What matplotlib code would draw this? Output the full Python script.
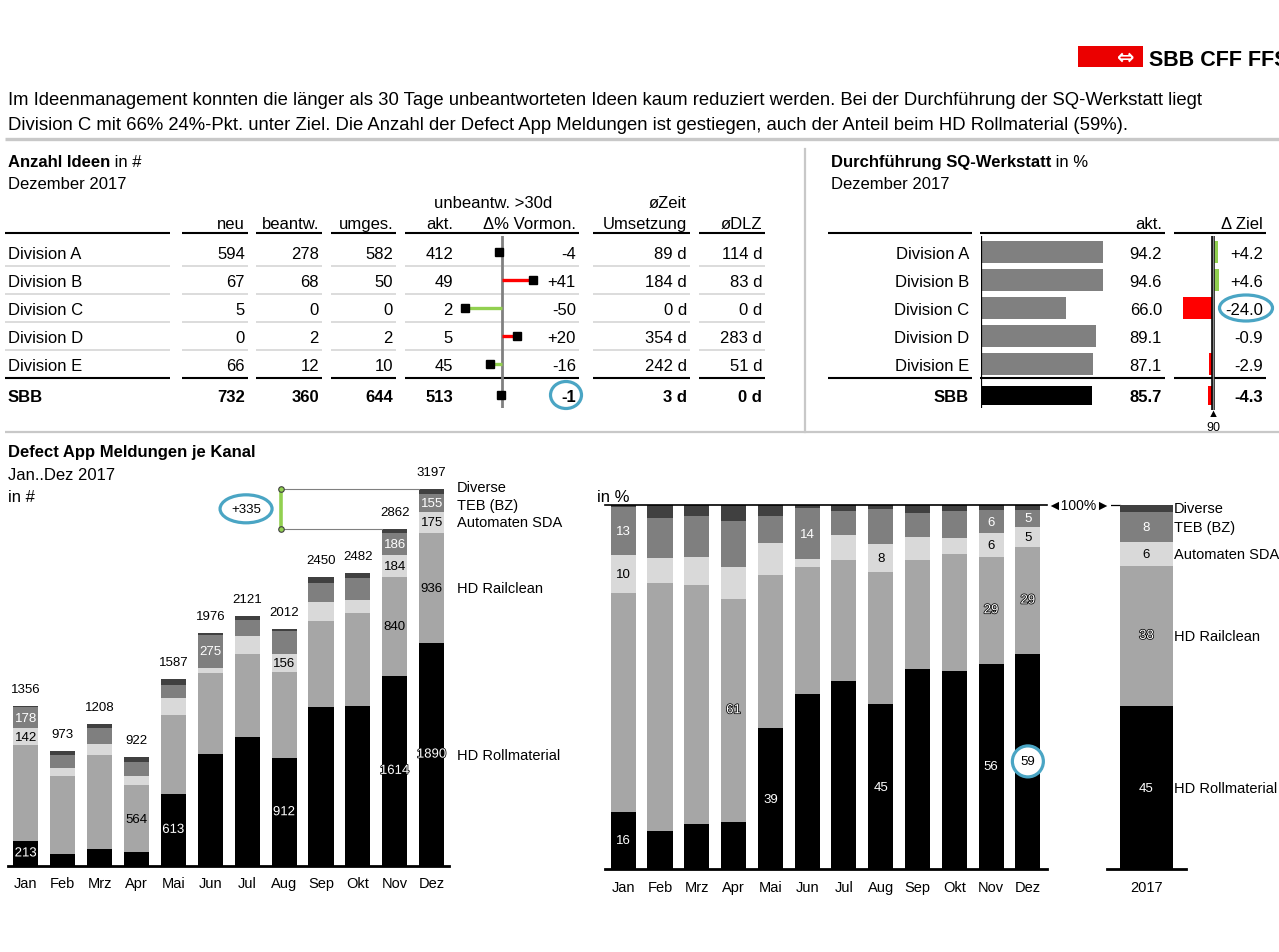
import matplotlib
matplotlib.use('Agg')
import matplotlib.pyplot as plt
import matplotlib.patheffects as pe
from matplotlib.patches import Ellipse, Rectangle
import numpy as np

plt.rcParams['font.family'] = ['Liberation Sans', 'DejaVu Sans']

W, H = 1279, 953

# --- Anzahl Ideen, Dezember 2017 (last row = SBB) ---
row_names = ['Division A', 'Division B', 'Division C', 'Division D', 'Division E', 'SBB']
ideen_neu = [594, 67, 5, 0, 66, 732]
ideen_beantw = [278, 68, 0, 2, 12, 360]
ideen_umges = [582, 50, 0, 2, 10, 644]
unbeantw_akt = [412, 49, 2, 5, 45, 513]
unbeantw_delta = [-4, 41, -50, 20, -16, -1]
zeit_umsetzung = [89, 184, 0, 354, 242, 3]
dlz = [114, 83, 0, 283, 51, 0]

# --- Durchfuehrung SQ-Werkstatt in % ---
sq_akt = [94.2, 94.6, 66.0, 89.1, 87.1, 85.7]
sq_ziel = 90

# --- Defect App Meldungen je Kanal ---
months = ['Jan', 'Feb', 'Mrz', 'Apr', 'Mai', 'Jun', 'Jul', 'Aug', 'Sep', 'Okt', 'Nov', 'Dez']
hd_roll = [213, 102, 148, 120, 613, 950, 1097, 912, 1346, 1353, 1614, 1890]
hd_rail = [814, 662, 793, 564, 668, 688, 705, 731, 733, 795, 840, 936]
automaten = [142, 68, 96, 82, 142, 45, 146, 156, 158, 112, 184, 175]
teb = [178, 106, 133, 115, 116, 275, 140, 190, 162, 182, 186, 155]
diverse = [9, 35, 38, 41, 48, 18, 33, 23, 51, 40, 38, 41]
series_names = ['HD Rollmaterial', 'HD Railclean', 'Automaten SDA', 'TEB (BZ)', 'Diverse']
series_colors = ['#000000', '#a6a6a6', '#d9d9d9', '#7f7f7f', '#404040']

# which segments carry a value label
abs_label_months = [[0, 4, 7, 10, 11], [3, 10, 11], [0, 7, 10, 11], [0, 5, 10, 11], []]
pct_labels = [{0: '16', 4: '39', 7: '45', 10: '56', 11: '59'},
              {3: '61', 10: '29', 11: '29'},
              {0: '10', 7: '8', 10: '6', 11: '5'},
              {0: '13', 5: '14', 10: '6', 11: '5'},
              {}]
year_labels = ['45', '38', '6', '8', '']

RED = '#ff0000'
GREEN = '#92d050'
RING = '#4aa5c4'
LGRAY = '#c8c8c8'

fig = plt.figure(figsize=(W / 100, H / 100), dpi=100)
bg = fig.add_axes([0, 0, 1, 1])
bg.set_xlim(0, W)
bg.set_ylim(H, 0)
bg.axis('off')


def px_axes(x0, y0, x1, y1):
    ax = fig.add_axes([x0 / W, 1 - y1 / H, (x1 - x0) / W, (y1 - y0) / H])
    ax.patch.set_visible(False)
    return ax


def T(x, y, s, size=12, ha='left', weight='normal', color='black', **kw):
    # y = visual centre of capitals
    return bg.text(x, y + size * 1.389 * 0.36, s, fontsize=size, ha=ha, va='baseline',
                   fontweight=weight, color=color, **kw)


def hline(x0, x1, y, color='black', lw=1.5):
    bg.plot([x0, x1], [y, y], color=color, lw=lw, solid_capstyle='butt')


halo = [pe.withStroke(linewidth=1.1, foreground='black')]

# ---------------- header ----------------
bg.add_patch(Rectangle((1078, 47), 65, 21, color='#eb0000', lw=0))
bg.text(1126, 57.5, '⇔', fontsize=15, color='white', ha='center', va='center',
        fontweight='bold', family='DejaVu Sans')
T(1149, 58, 'SBB CFF FFS', size=15.5, weight='bold')

T(8, 98, 'Im Ideenmanagement konnten die länger als 30 Tage unbeantworteten Ideen kaum '
         'reduziert werden. Bei der Durchführung der SQ-Werkstatt liegt', size=13.3)
T(8, 123, 'Division C mit 66% 24%-Pkt. unter Ziel. Die Anzahl der Defect App Meldungen ist '
          'gestiegen, auch der Anteil beim HD Rollmaterial (59%).', size=13.3)
hline(5, W, 140, LGRAY, 2.4)
hline(5, W, 433, LGRAY, 1.6)
bg.plot([805, 805], [150, 433], color=LGRAY, lw=1.6)

# ---------------- left table ----------------
t = T(8, 161, 'Anzahl Ideen', weight='bold')
bg.annotate(' in #', xy=(1, 0), xycoords=t, va='bottom', fontsize=12)
T(8, 183, 'Dezember 2017')
T(493, 202, 'unbeantw. >30d', ha='center')
T(687, 202, 'øZeit', ha='right')
for x, s in [(245, 'neu'), (319, 'beantw.'), (393, 'umges.'), (453, 'akt.'),
             (576, 'Δ% Vormon.'), (687, 'Umsetzung'), (762, 'øDLZ')]:
    T(x, 223, s, ha='right')

left_segs = [(5, 170), (182, 248), (256, 322), (331, 396), (405, 579), (593, 690), (699, 765)]
for a, b in left_segs:
    hline(a, b, 234)
    hline(a, b, 378.5)
    for y in [267, 295, 323, 351]:
        hline(a, b, y, '#dcdcdc', 1.4)

row_y = [253, 281, 309, 337, 365, 396]
for i, y in enumerate(row_y):
    w = 'bold' if i == len(row_y) - 1 else 'normal'
    T(8, y, row_names[i], weight=w)
    T(245, y, str(ideen_neu[i]), ha='right', weight=w)
    T(319, y, str(ideen_beantw[i]), ha='right', weight=w)
    T(393, y, str(ideen_umges[i]), ha='right', weight=w)
    T(453, y, str(unbeantw_akt[i]), ha='right', weight=w)
    d = unbeantw_delta[i]
    T(576, y, f'{d:+d}' if d > 0 else str(d), ha='right', weight=w)
    T(687, y, f'{zeit_umsetzung[i]} d', ha='right', weight=w)
    T(762, y, f'{dlz[i]} d', ha='right', weight=w)
bg.add_patch(Ellipse((566, 396), 31, 27, fill=False, ec=RING, lw=2.3))

# delta mini chart
ax4 = px_axes(405, 237, 578, 409)
ax4.set_xlim(-97 / 0.75, 76 / 0.75)
ax4.set_ylim(409, 237)
ax4.axis('off')
ax4.axvline(0, color='#808080', lw=2, zorder=1)
for y, d in zip(row_y, unbeantw_delta):
    ax4.plot([0, d], [y, y], color=RED if d > 0 else GREEN, lw=2.4,
             solid_capstyle='butt', zorder=2)
    ax4.plot(d, y, 's', ms=5.8, color='black', zorder=3)

# ---------------- right table ----------------
t = T(831, 161, 'Durchführung SQ-Werkstatt', weight='bold')
bg.annotate(' in %', xy=(1, 0), xycoords=t, va='bottom', fontsize=12)
T(831, 183, 'Dezember 2017')
T(1162, 223, 'akt.', ha='right')
T(1263, 223, 'Δ Ziel', ha='right')
for a, b in [(828, 972), (980, 1165), (1174, 1266)]:
    hline(a, b, 234)
    hline(a, b, 378.5)

sq_delta = [round(v - sq_ziel, 1) for v in sq_akt]
for i, y in enumerate(row_y):
    w = 'bold' if i == len(row_y) - 1 else 'normal'
    T(969, y, row_names[i], ha='right', weight=w)
    T(1162, y, f'{sq_akt[i]:.1f}', ha='right', weight=w)
    T(1263, y, f'{sq_delta[i]:+.1f}' if sq_delta[i] > 0 else f'{sq_delta[i]:.1f}',
      ha='right', weight=w)
bg.add_patch(Ellipse((1246, 309), 53, 26, fill=False, ec=RING, lw=2.3))

ax5 = px_axes(981, 237, 1166, 409)
ax5.set_xlim(0, 185 / 1.29)
ax5.set_ylim(409, 237)
ax5.axis('off')
ax5.barh(row_y, sq_akt, height=[22] * 5 + [19],
         color=['#808080'] * 5 + ['#000000'], lw=0)
ax5.axvline(0, color='black', lw=1.6)

ax6 = px_axes(1174, 237, 1266, 411)
ax6.set_xlim(-39 / 1.27, 92 / 1.27 - 39 / 1.27)
ax6.set_ylim(411, 237)
ax6.axis('off')
ax6.barh(row_y, sq_delta, height=[22] * 5 + [19],
         color=[GREEN if v > 0 else RED for v in sq_delta], lw=0)
ax6.axvline(0, color='black', lw=2.6)
ax6.axvline(0, color='#8a8a8a', lw=1.0)
bg.text(1213, 414, '▲', fontsize=8, ha='center', va='center')
T(1213, 426, str(sq_ziel), size=9, ha='center')

# ---------------- Defect App Meldungen (absolute) ----------------
T(8, 451, 'Defect App Meldungen je Kanal', weight='bold')
T(8, 474, 'Jan..Dez 2017')
T(8, 496, 'in #')

series = [np.array(s) for s in [hd_roll, hd_rail, automaten, teb, diverse]]
x = np.arange(len(months))
bw = 0.68

ax1 = px_axes(8, 440, 449, 867)
ax1.set_xlim(-0.482, 11.47)
ax1.set_ylim(0, 427 / 0.1179)
bottom = np.zeros(len(months))
centers = []
for vals, col in zip(series, series_colors):
    ax1.bar(x, vals, width=bw, bottom=bottom, color=col, lw=0)
    centers.append(bottom + vals / 2)
    bottom = bottom + vals
totals = bottom
for s in ['top', 'left', 'right']:
    ax1.spines[s].set_visible(False)
ax1.spines['bottom'].set_linewidth(2)
ax1.set_yticks([])
ax1.set_xticks(x, months)
ax1.tick_params(axis='x', length=0, pad=7, labelsize=10.5)

for i, tot in enumerate(totals):
    ax1.annotate(f'{tot:.0f}', (i, tot), xytext=(0, 10), textcoords='offset points',
                 ha='center', va='baseline', fontsize=9.5)

abs_styles = ['halo', 'black', 'black', 'white', None]
for k, idxs in enumerate(abs_label_months):
    for i in idxs:
        st = abs_styles[k]
        txt = ax1.text(i, centers[k][i], str(series[k][i]), ha='center', va='center',
                       fontsize=9.5, color='black' if st == 'black' else 'white')
        if st == 'halo':
            txt.set_path_effects(halo)

last = len(months) - 1
legend_nudge = [0, 0, 0, -1.5, 3]   # points, keeps Diverse clear of TEB
for k, name in enumerate(series_names):
    ax1.annotate(name, (last + bw / 2, centers[k][last]), xytext=(9, legend_nudge[k]),
                 textcoords='offset points', ha='left', va='center', fontsize=10.5)

# difference bracket Nov -> Dez
xb = 6.92
ax1.plot([xb, last - bw / 2], [totals[last]] * 2, color='#808080', lw=0.8)
ax1.plot([xb, last - 1 - bw / 2], [totals[last - 1]] * 2, color='#808080', lw=0.8)
ax1.plot([xb, xb], [totals[last - 1], totals[last]], color=GREEN, lw=2.6,
         marker='o', ms=4, mfc=GREEN, mec='#404040', mew=0.8)
mid = (totals[last] + totals[last - 1]) / 2
ax1.text(5.97, mid, f'{totals[last] - totals[last - 1]:+.0f}', ha='center', va='center',
         fontsize=9.5)
ax1.add_patch(Ellipse((5.97, mid), 52 / 36.9, 28 / 0.1179, fill=False, ec=RING, lw=2.3))

# ---------------- Defect App Meldungen (percent) ----------------
T(597, 496, 'in %')
ax2 = px_axes(605, 506, 1047, 870)
ax2.set_xlim(-0.495, 11.52)
ax2.set_ylim(0, 100)
bottom = np.zeros(len(months))
pcenters = []
for vals, col in zip(series, series_colors):
    p = vals / totals * 100
    ax2.bar(x, p, width=bw, bottom=bottom, color=col, lw=0)
    pcenters.append(bottom + p / 2)
    bottom = bottom + p
for s in ['left', 'right']:
    ax2.spines[s].set_visible(False)
ax2.spines['bottom'].set_linewidth(2)
ax2.spines['top'].set_linewidth(1.2)
ax2.set_yticks([])
ax2.set_xticks(x, months)
ax2.tick_params(axis='x', length=0, pad=8, labelsize=10.5)

pct_styles = ['white', 'halo', 'black', 'white']
for k, labs in enumerate(pct_labels):
    for i, s in labs.items():
        st = pct_styles[k]
        txt = ax2.text(i, pcenters[k][i], s, ha='center', va='center', fontsize=9.5,
                       color='black' if st == 'black' else 'white', zorder=4)
        if st == 'halo':
            txt.set_path_effects(halo)
# highlighted Dez share
hl = ax2.texts[4]
hl.set_color('black')
ax2.add_patch(Ellipse((last, pcenters[0][last]), 31 / 36.8, 31 / 3.64, fc='white',
                      ec=RING, lw=2.3, zorder=3))

bg.plot([1047, 1120], [506, 506], color='black', lw=0.9)
bg.text(1079, 506, '◄100%►', fontsize=10, ha='center', va='center',
        bbox=dict(fc='white', ec='none', pad=0.5))

# 2017 total
ax3 = px_axes(1107, 506, 1186, 870)
ax3.set_xlim(-0.75, 0.75)
ax3.set_ylim(0, 100)
year_tot = sum(s.sum() for s in series)
b = 0
for k, (vals, col) in enumerate(zip(series, series_colors)):
    p = vals.sum() / year_tot * 100
    ax3.bar(0, p, width=1.0, bottom=b, color=col, lw=0)
    if year_labels[k]:
        st = pct_styles[k]
        txt = ax3.text(0, b + p / 2, year_labels[k], ha='center', va='center', fontsize=9.5,
                       color='black' if st == 'black' else 'white')
        if st == 'halo':
            txt.set_path_effects(halo)
    ax3.annotate(series_names[k], (0.5, b + p / 2), xytext=(1, 0),
                 textcoords='offset points', ha='left', va='center', fontsize=10.5)
    b += p
for s in ['top', 'left', 'right']:
    ax3.spines[s].set_visible(False)
ax3.spines['bottom'].set_linewidth(2)
ax3.set_yticks([])
ax3.set_xticks([0], ['2017'])
ax3.tick_params(axis='x', length=0, pad=8, labelsize=10.5)

fig.savefig('out.png', dpi=100)
